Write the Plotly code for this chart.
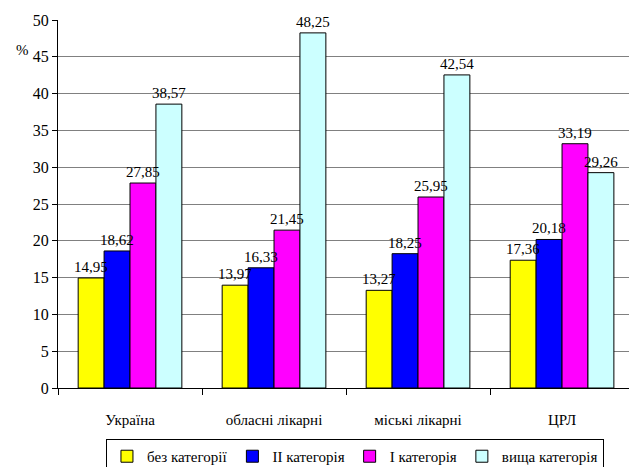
import plotly.graph_objects as go

categories = ["Україна", "обласні лікарні", "міські лікарні", "ЦРЛ"]
series_names = ["без категорії", "II категорія", "I категорія", "вища категорія"]
bez = [14.95, 13.97, 13.27, 17.36]
cat2 = [18.62, 16.33, 18.25, 20.18]
cat1 = [27.85, 21.45, 25.95, 33.19]
vyshcha = [38.57, 48.25, 42.54, 29.26]
colors = ["#FFFF00", "#0000FF", "#FF00FF", "#CCFFFF"]
y_ticks = [0, 5, 10, 15, 20, 25, 30, 35, 40, 45, 50]

FONT = "Liberation Serif"
BARGAP = 0.28
CAT_PX = 144.0  # pixel width of one category on the x axis
bar_px = CAT_PX * (1 - BARGAP) / 4

fig = go.Figure()
all_series = [bez, cat2, cat1, vyshcha]
for name, vals, col in zip(series_names, all_series, colors):
    fig.add_trace(go.Bar(
        x=categories, y=vals, name=name,
        marker=dict(color=col, line=dict(color="black", width=1)),
    ))

# value labels drawn on top of all bars
for i, vals in enumerate(all_series):
    for c, v in zip(categories, vals):
        fig.add_annotation(
            x=c, y=v, xref="x", yref="y", text=f"{v:.2f}".replace(".", ","),
            showarrow=False, yanchor="bottom", xshift=(i - 1.5) * bar_px, yshift=1,
            font=dict(family=FONT, size=15, color="black"),
        )

fig.update_layout(
    width=629, height=467,
    margin=dict(l=58, r=0, t=20, b=79),
    barmode="group", bargap=BARGAP, bargroupgap=0,
    plot_bgcolor="white", paper_bgcolor="white",
    font=dict(family=FONT, size=15, color="black"),
    showlegend=True,
    legend=dict(
        orientation="h", x=0.084, y=0.06, yref="container",
        xanchor="left", yanchor="top",
        bordercolor="black", borderwidth=1, font=dict(family=FONT, size=15),
        traceorder="normal", itemwidth=30,
    ),
    xaxis=dict(
        range=[-0.5, 3.465], showline=True, linecolor="black", linewidth=1,
        ticks="outside", tickson="boundaries", ticklen=6, tickcolor="black",
        showgrid=False, tickfont=dict(family=FONT, size=15), ticklabelstandoff=18,
    ),
    yaxis=dict(
        range=[0, 50], tickvals=y_ticks, showline=True, linecolor="black", linewidth=1,
        ticks="outside", ticklen=5, tickcolor="black",
        showgrid=True, gridcolor="#808080", gridwidth=1, zeroline=False,
        tickfont=dict(family=FONT, size=16),
    ),
)
fig.add_annotation(text="%", xref="paper", yref="paper", x=-0.077, y=0.947,
                   showarrow=False, font=dict(family=FONT, size=15))
fig.write_html("out.html")
